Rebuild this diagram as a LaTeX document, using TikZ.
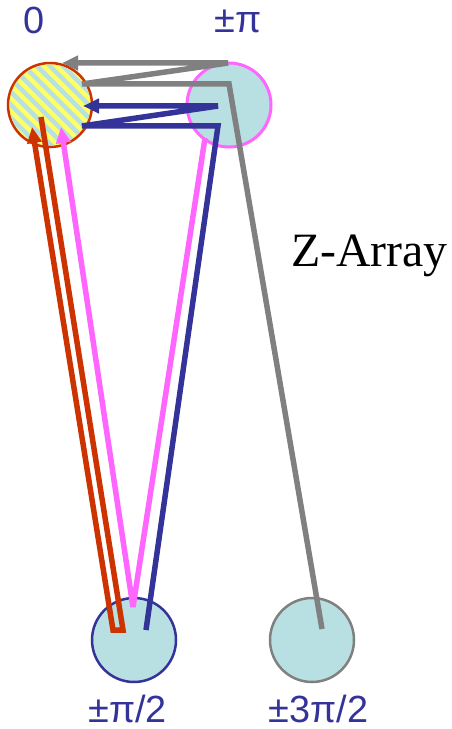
\documentclass[tikz,border=0pt]{standalone}
\usepackage{fontspec}
\setmainfont{Liberation Serif}
\newfontfamily\arialfont{Liberation Sans}
\usetikzlibrary{arrows.meta}
\definecolor{phasefill}{RGB}{184,224,226}
\definecolor{navyline}{RGB}{51,51,153}
\definecolor{pinkline}{RGB}{255,102,255}
\definecolor{redline}{RGB}{204,51,0}
\definecolor{grayline}{RGB}{128,128,128}
\definecolor{stripeyellow}{RGB}{255,255,102}

\begin{document}
\begin{tikzpicture}[x=1bp,y=-1bp,
    phase/.style={circle,minimum size=84bp,inner sep=0pt,fill=phasefill,line width=2.5bp},
    wire/.style={line width=5.5bp,miter limit=4},
    tip/.style={-{Triangle[length=16bp,width=14bp]}},
    lbl/.style={font=\arialfont\fontsize{38}{38}\selectfont,text=navyline,anchor=base}]
    \useasboundingbox (0,0) rectangle (452,729);
    \node[phase,fill=stripeyellow,draw=redline] (z0) at (50,105) {};
    \node[phase,draw=pinkline,line width=3bp] (pi) at (229,105) {};
    \node[phase,draw=navyline] (halfpi) at (134,640) {};
    \node[phase,draw=grayline] (threepi) at (312,640) {};
    \begin{scope}
        \clip (50,105) circle (40.5bp);
        \foreach \s in {-130,-117,...,130}
            \draw[phasefill,line width=4.5bp] (50+\s-70,35) -- ++(140,140);
    \end{scope}
    \node[lbl] (l0) at (34,34) {0};
    \node[lbl] (lpi) at (238,33) {±π};
    \node[lbl] (lhalf) at (127.5,722) {±π/2};
    \node[lbl] (lthree) at (318.5,722) {±3π/2};
    \node[font=\fontsize{48}{48}\selectfont,anchor=base] (zarray) at (369.5,266) {Z-Array};
    \coordinate (g1) at (322,629);
    \coordinate (g2) at (229,84);
    \coordinate (g3) at (82,84);
    \coordinate (g4) at (228,63);
    \coordinate (g5) at (62,63);
    \coordinate (b1) at (146,630);
    \coordinate (b2) at (218,126);
    \coordinate (b3) at (82,126);
    \coordinate (b4) at (218,106);
    \coordinate (b5) at (83,106);
    \coordinate (p1) at (205,138);
    \coordinate (p2) at (133,607);
    \coordinate (p3) at (61,127);
    \coordinate (r1) at (41,117);
    \coordinate (r2) at (123,630);
    \coordinate (r3) at (113,630);
    \coordinate (r4) at (32,127);
    \draw[wire,grayline,tip] (g1) -- (g2) -- (g3) -- (g4) -- (g5);
    \draw[wire,navyline,tip] (b1) -- (b2) -- (b3) -- (b4) -- (b5);
    \draw[wire,pinkline,tip] (p1) -- (p2) -- (p3);
    \draw[wire,redline,tip] (r1) -- (r2) -- (r3) -- (r4);
\end{tikzpicture}
\end{document}
